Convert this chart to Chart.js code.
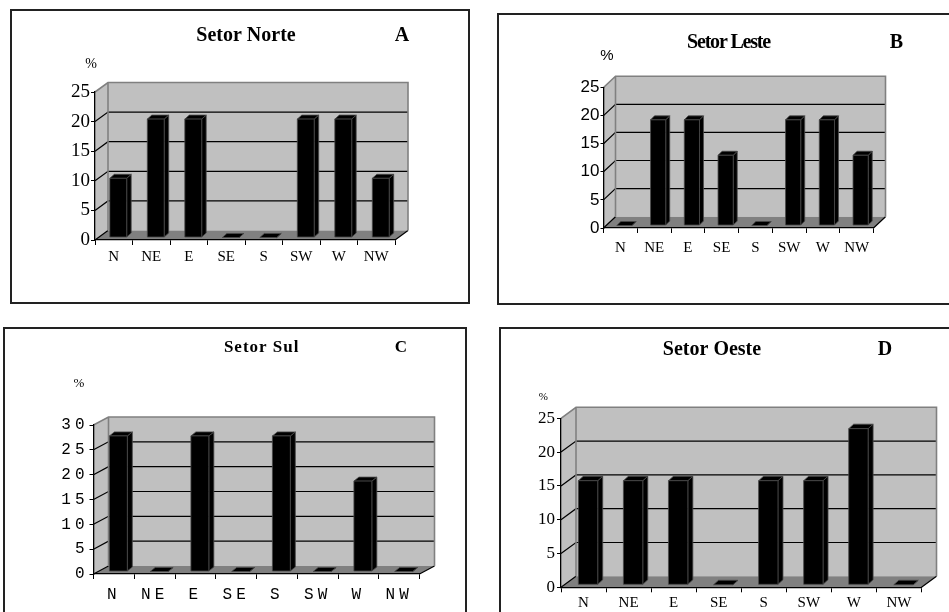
<!DOCTYPE html>
<html>
<head>
<meta charset="utf-8">
<title>Setores</title>
<script src="https://cdn.jsdelivr.net/npm/chart.js@4.4.1/dist/chart.umd.min.js"></script>
<style>
  html, body { margin: 0; padding: 0; background: #fff; }
  body { width: 949px; height: 612px; position: relative; overflow: hidden; }
  .frame { position: absolute; border: 2px solid #222; box-sizing: border-box; }
  canvas { position: absolute; left: 0; top: 0; }
</style>
</head>
<body>
<div class="frame" style="left:10px;top:9px;width:460px;height:295px"></div>
<div class="frame" style="left:497px;top:13px;width:470px;height:292px"></div>
<div class="frame" style="left:3px;top:327px;width:464px;height:300px"></div>
<div class="frame" style="left:499px;top:327px;width:470px;height:300px"></div>
<canvas id="chartNorte" width="949" height="660"></canvas>
<canvas id="chartLeste" width="949" height="660"></canvas>
<canvas id="chartSul" width="949" height="660"></canvas>
<canvas id="chartOeste" width="949" height="660"></canvas>
<script>
// Wind direction categories and the share (%) of each direction per sector
const directions = ['N', 'NE', 'E', 'SE', 'S', 'SW', 'W', 'NW'];
const norteValues = [10, 20, 20, 0, 0, 20, 20, 10];
const lesteValues = [0, 18.8, 18.8, 12.5, 0, 18.8, 18.8, 12.5];
const sulValues   = [27.3, 0, 27.3, 0, 27.3, 0, 18.2, 0];
const oesteValues = [15.4, 15.4, 15.4, 0, 15.4, 15.4, 23.1, 0];

// Value axis ranges
const norteMax = 25;
const lesteMax = 25;
const sulMax = 30;
const oesteMax = 25;
const tickStep = 5;

// Panel texts
const sectorTitles = ['Setor Norte', 'Setor Leste', 'Setor Sul', 'Setor Oeste'];
const panelLetters = ['A', 'B', 'C', 'D'];
const unitLabel = '%';

const W = 949, H = 660;
const AXIS_W = 40, AXIS_H = 36;

// Draws the pseudo-3D walls, floor, prism bars and the panel captions
function depthPlugin(cfg) {
  function poly(ctx, pts) {
    ctx.beginPath();
    ctx.moveTo(pts[0][0], pts[0][1]);
    for (let i = 1; i < pts.length; i++) ctx.lineTo(pts[i][0], pts[i][1]);
    ctx.closePath();
  }
  return {
    id: 'depth3d',
    beforeDraw(chart) {
      const { ctx, chartArea: a, scales } = chart;
      const y = scales.y;
      const dx = cfg.depth[0], dy = cfg.depth[1];
      ctx.save();
      ctx.letterSpacing = '0px';
      // back wall
      ctx.fillStyle = '#c0c0c0';
      ctx.fillRect(a.left + dx, a.top + dy, a.right - a.left, a.bottom - a.top);
      // side wall
      poly(ctx, [[a.left, a.bottom], [a.left, a.top], [a.left + dx, a.top + dy], [a.left + dx, a.bottom + dy]]);
      ctx.fill();
      // floor
      ctx.fillStyle = '#808080';
      poly(ctx, [[a.left, a.bottom], [a.right, a.bottom], [a.right + dx, a.bottom + dy], [a.left + dx, a.bottom + dy]]);
      ctx.fill();
      // grid lines across side and back wall
      ctx.strokeStyle = '#000';
      ctx.lineWidth = 1.2;
      y.ticks.forEach(t => {
        if (t.value <= y.min || t.value >= y.max) return;
        const py = y.getPixelForValue(t.value);
        ctx.beginPath();
        ctx.moveTo(a.left, py);
        ctx.lineTo(a.left + dx, py + dy);
        ctx.lineTo(a.right + dx, py + dy);
        ctx.stroke();
      });
      // floor left and right edges
      ctx.beginPath();
      ctx.moveTo(a.left, a.bottom); ctx.lineTo(a.left + dx, a.bottom + dy);
      ctx.moveTo(a.right, a.bottom); ctx.lineTo(a.right + dx, a.bottom + dy);
      ctx.stroke();
      // wall outlines
      ctx.strokeStyle = '#808080';
      ctx.lineWidth = 1.6;
      ctx.beginPath();
      ctx.moveTo(a.left, a.top);
      ctx.lineTo(a.left + dx, a.top + dy);
      ctx.lineTo(a.right + dx, a.top + dy);
      ctx.lineTo(a.right + dx, a.bottom + dy);
      ctx.moveTo(a.left + dx, a.top + dy);
      ctx.lineTo(a.left + dx, a.bottom + dy);
      ctx.stroke();
      ctx.restore();
      ctx.letterSpacing = cfg.tickSpacing || '0px';
    },
    afterDatasetsDraw(chart) {
      const { ctx } = chart;
      const meta = chart.getDatasetMeta(0);
      const [sx, sy] = cfg.barShift;
      const [bx, by] = cfg.barDepth;
      ctx.save();
      ctx.fillStyle = '#000';
      ctx.strokeStyle = '#4a4a4a';
      ctx.lineWidth = 0.8;
      ctx.lineJoin = 'round';
      meta.data.forEach(bar => {
        const p = bar.getProps(['x', 'y', 'base', 'width'], true);
        const x0 = p.x - p.width / 2 + sx, x1 = p.x + p.width / 2 + sx;
        const yt = p.y + sy, yb = p.base + sy;
        // right side face
        poly(ctx, [[x1, yb], [x1, yt], [x1 + bx, yt + by], [x1 + bx, yb + by]]);
        ctx.fill(); ctx.stroke();
        // top face
        poly(ctx, [[x0, yt], [x1, yt], [x1 + bx, yt + by], [x0 + bx, yt + by]]);
        ctx.fill(); ctx.stroke();
        // front face
        if (yb - yt > 0.5) {
          poly(ctx, [[x0, yt], [x1, yt], [x1, yb], [x0, yb]]);
          ctx.fill(); ctx.stroke();
        }
      });
      ctx.restore();
    },
    afterDraw(chart) {
      const { ctx } = chart;
      ctx.save();
      ctx.fillStyle = '#000';
      ctx.textAlign = 'center';
      ctx.textBaseline = 'middle';
      ctx.letterSpacing = cfg.titleSpacing || '0px';
      ctx.font = 'bold ' + cfg.titleSize + 'px "Liberation Serif"';
      ctx.fillText(cfg.title, cfg.titlePos[0], cfg.titlePos[1]);
      ctx.letterSpacing = '0px';
      ctx.fillText(cfg.letter, cfg.letterPos[0], cfg.letterPos[1]);
      ctx.font = cfg.unitFont;
      ctx.fillText(unitLabel, cfg.unitPos[0], cfg.unitPos[1]);
      ctx.restore();
    }
  };
}

function makePanel(id, values, maxVal, cfg) {
  const f = cfg.front;
  return new Chart(document.getElementById(id), {
    type: 'bar',
    data: {
      labels: directions,
      datasets: [{
        data: values,
        backgroundColor: 'rgba(0,0,0,0)',
        borderWidth: 0,
        categoryPercentage: 1,
        barPercentage: cfg.barPct
      }]
    },
    options: {
      responsive: false,
      animation: false,
      events: [],
      layout: {
        padding: { left: f.left - AXIS_W, right: W - f.right, top: f.top, bottom: H - f.bottom - AXIS_H }
      },
      plugins: { legend: { display: false }, tooltip: { enabled: false }, title: { display: false } },
      scales: {
        x: {
          offset: true,
          grid: { offset: true, drawOnChartArea: false, drawTicks: true, tickLength: 5, color: '#000', lineWidth: 1 },
          border: { display: true, color: '#000', width: 1.3 },
          ticks: { font: cfg.xFont, color: '#000', padding: cfg.xPad, autoSkip: false, maxRotation: 0, minRotation: 0 },
          afterFit(s) { s.height = AXIS_H; }
        },
        y: {
          min: 0,
          max: maxVal,
          ticks: { stepSize: tickStep, font: cfg.yFont, color: '#000', padding: cfg.yPad },
          grid: { drawOnChartArea: false, drawTicks: true, tickLength: cfg.yTick, color: '#000', lineWidth: 1 },
          border: { display: true, color: '#000', width: 1.3 },
          afterFit(s) { s.width = AXIS_W; }
        }
      }
    },
    plugins: [depthPlugin(cfg)]
  });
}

makePanel('chartNorte', norteValues, norteMax, {
  front: { left: 95, right: 395, top: 92, bottom: 240 },
  depth: [13, -9.5],
  barPct: 0.45, barShift: [4.5, -2.5], barDepth: [4.5, -4],
  yFont: { family: 'Liberation Serif', size: 19 }, yPad: 1, yTick: 4,
  xFont: { family: 'Liberation Serif', size: 15 }, xPad: 3,
  title: sectorTitles[0], titleSize: 20, titlePos: [246, 36],
  letter: panelLetters[0], letterPos: [402, 36],
  unitFont: '14px "Liberation Serif"', unitPos: [91, 64]
});

makePanel('chartLeste', lesteValues, lesteMax, {
  front: { left: 603.5, right: 873.5, top: 87.5, bottom: 228 },
  depth: [12, -11.3],
  barPct: 0.45, barShift: [4, -2.5], barDepth: [4, -4],
  yFont: { family: 'Liberation Sans', size: 17 }, yPad: 1, yTick: 3,
  xFont: { family: 'Liberation Serif', size: 15 }, xPad: 6,
  title: sectorTitles[1], titleSize: 20, titlePos: [728.5, 43], titleSpacing: '-1.2px',
  letter: panelLetters[1], letterPos: [896.5, 43],
  unitFont: '15px "Liberation Sans"', unitPos: [607, 56]
});

makePanel('chartSul', sulValues, sulMax, {
  front: { left: 93.5, right: 419.5, top: 425, bottom: 574 },
  depth: [15, -8],
  barPct: 0.44, barShift: [4.5, -2.5], barDepth: [5, -4],
  yFont: { family: 'Liberation Mono', size: 16 }, yPad: 1, yTick: 4,
  xFont: { family: 'Liberation Mono', size: 16 }, xPad: 6,
  tickSpacing: '4px',
  title: sectorTitles[2], titleSize: 17, titlePos: [261.7, 348], titleSpacing: '1px',
  letter: panelLetters[2], letterPos: [401, 348],
  unitFont: '13px "Liberation Serif"', unitPos: [79, 383.5]
});

makePanel('chartOeste', oesteValues, oesteMax, {
  front: { left: 561, right: 921.5, top: 418.3, bottom: 587.3 },
  depth: [15, -11],
  barPct: 0.43, barShift: [4.5, -2.5], barDepth: [5, -4.5],
  yFont: { family: 'Liberation Serif', size: 17 }, yPad: 2, yTick: 4,
  xFont: { family: 'Liberation Serif', size: 15 }, xPad: 2,
  title: sectorTitles[3], titleSize: 20, titlePos: [712, 350],
  letter: panelLetters[3], letterPos: [885, 350],
  unitFont: '11px "Liberation Serif"', unitPos: [543.3, 396.7]
});
</script>
</body>
</html>
